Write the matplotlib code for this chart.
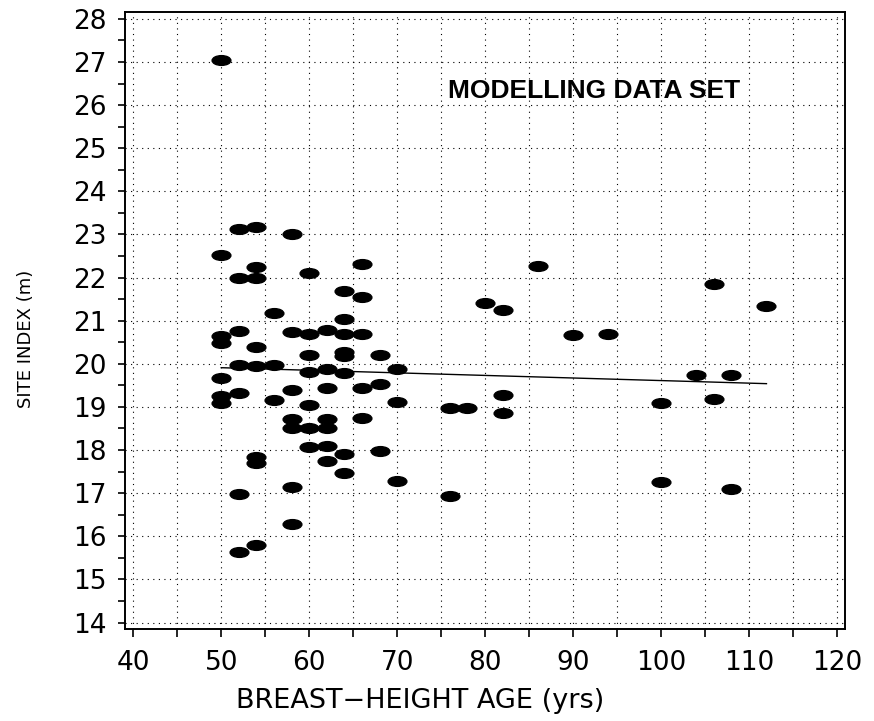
import numpy as np
import matplotlib
matplotlib.use('Agg')
import matplotlib.pyplot as plt
from matplotlib.path import Path
from matplotlib.transforms import Affine2D

# breast-height age (yrs) and site index (m)
age = [50, 52, 54, 58, 50, 54, 52, 54, 60, 66,
       64, 66, 56, 64, 50, 50, 52, 58, 60, 62,
       64, 66, 54, 60, 64, 64, 68, 52, 54, 56,
       60, 62, 64, 50, 52, 50, 50, 58, 56, 62,
       60, 66, 68,
       58, 58, 60, 62, 62, 66, 60, 62, 64, 68,
       54, 54, 62, 64, 58, 52, 58, 54, 52,
       86, 106, 80, 82, 112, 90, 94, 70, 104, 108,
       82, 70, 100, 106, 76, 78, 82, 70, 100, 108, 76]
site_index = [27.05, 23.12, 23.18, 23.0, 22.52, 22.24, 22.0, 21.98, 22.1, 22.32,
              21.7, 21.55, 21.19, 21.05, 20.64, 20.48, 20.75, 20.73, 20.69, 20.79,
              20.7, 20.7, 20.38, 20.21, 20.27, 20.17, 20.2, 19.97, 19.94, 19.97,
              19.81, 19.89, 19.79, 19.68, 19.33, 19.25, 19.08, 19.39, 19.16, 19.45,
              19.04, 19.43, 19.54,
              18.71, 18.52, 18.52, 18.71, 18.52, 18.75, 18.07, 18.1, 17.9, 17.98,
              17.83, 17.71, 17.74, 17.47, 17.15, 16.98, 16.29, 15.79, 15.64,
              22.28, 21.85, 21.41, 21.25, 21.35, 20.66, 20.7, 19.87, 19.75, 19.73,
              19.27, 19.11, 19.1, 19.18, 18.97, 18.97, 18.87, 17.29, 17.27, 17.1, 16.93]

# fitted line end points
fit_age = [50, 112]
fit_si = [19.91, 19.54]

xticks = list(range(40, 121, 10))
yticks = list(range(14, 29))

fig = plt.figure(figsize=(8.74, 7.21), dpi=100)
ax = fig.add_axes([0.143, 0.127, 0.824, 0.857])

ellipse = Path.unit_circle().transformed(Affine2D().scale(1.0, 0.52))

ax.plot(age, site_index, linestyle='none', marker=ellipse, ms=13.5,
        color='black', zorder=3)
ax.plot(fit_age, fit_si, color='black', lw=1.0, zorder=2)

ax.set_xlim(39.05, 120.95)
ax.set_ylim(13.84, 28.17)
ax.set_xticks(xticks)
ax.set_xticks(list(range(45, 120, 10)), minor=True)
ax.set_yticks(yticks)
ax.set_yticks(list(np.arange(14.5, 28, 1.0)), minor=True)

ax.grid(which='both', axis='x', color='black', lw=0.8, linestyle=(0, (1, 4)))
ax.grid(which='major', axis='y', color='black', lw=0.8, linestyle=(0, (1, 4)))
ax.set_axisbelow(True)

ax.tick_params(axis='x', which='both', direction='out', length=6, width=1.2,
               labelsize=19, pad=9)
ax.tick_params(axis='y', which='both', direction='out', length=5, width=1.2,
               labelsize=19, pad=8)
for s in ax.spines.values():
    s.set_linewidth(1.4)

ax.set_xlabel('BREAST\u2212HEIGHT AGE (yrs)', fontsize=19.5)
ax.xaxis.set_label_coords(0.41, -0.095)
ax.set_ylabel('SITE INDEX (m)', fontsize=13,
              family=['Liberation Sans Narrow', 'DejaVu Sans'])
ax.yaxis.set_label_coords(-0.125, 0.47)

ax.text(92.4, 26.33, 'MODELLING DATA SET', fontsize=19, fontweight='bold',
        family='Liberation Sans', ha='center', va='center')

fig.savefig('out.png', dpi=100)
